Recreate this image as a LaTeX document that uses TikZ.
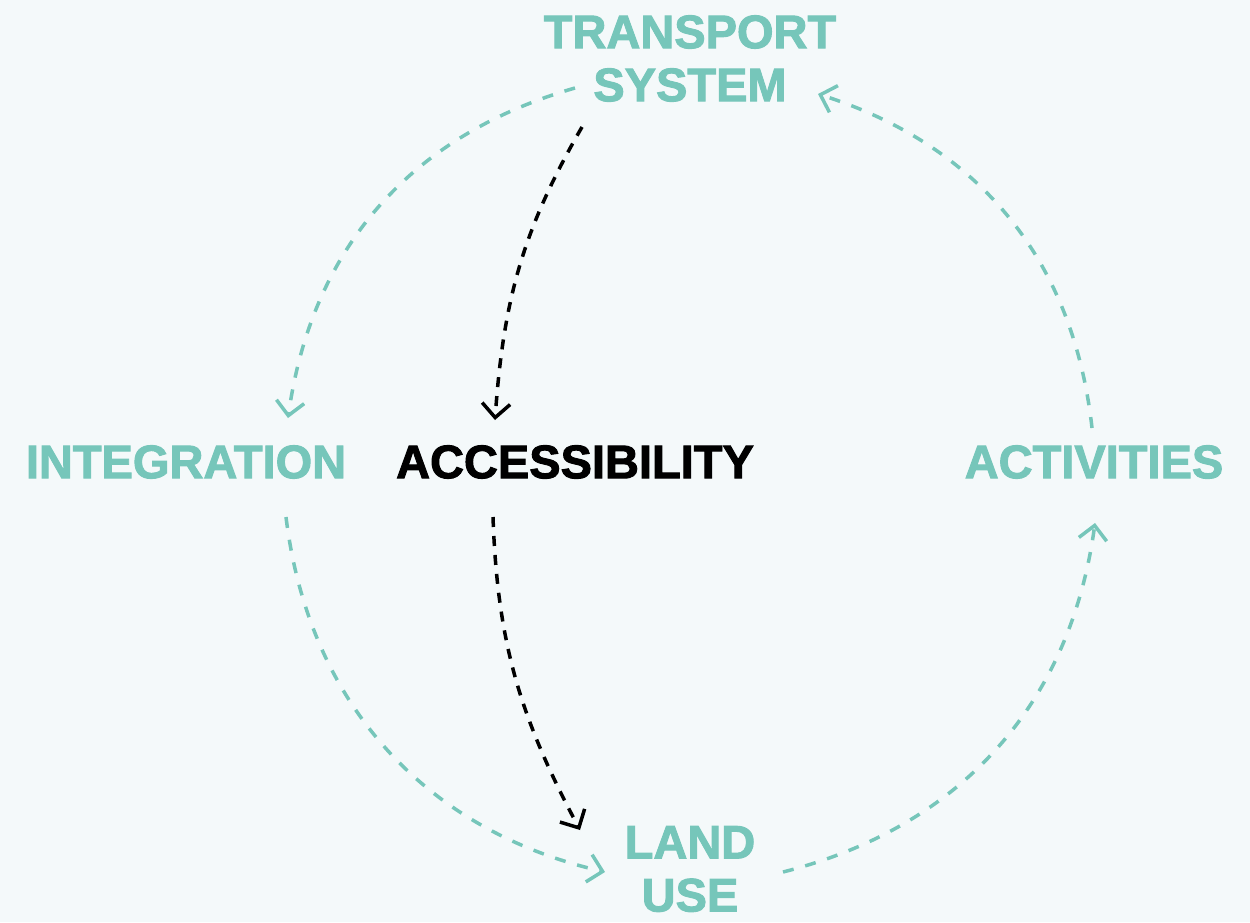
\documentclass[tikz,border=0pt]{standalone}
\usepackage{fontspec}
\setmainfont{Liberation Sans}[BoldFeatures={FakeBold=2}]
\usetikzlibrary{arrows.meta}
\definecolor{bgc}{HTML}{F4F9FA}
\definecolor{teal}{HTML}{76C6BA}
\tikzset{
  lbl/.style={inner sep=0pt, align=center, font=\fontsize{47}{53}\selectfont\bfseries},
  cyc/.style={draw=teal, line width=3.5pt, dash pattern=on 11pt off 12pt,
    -{Straight Barb[length=14pt,width=28pt,line width=3.5pt]}},
  acc/.style={draw=black, line width=3.5pt, dash pattern=on 10pt off 9pt,
    -{Straight Barb[length=14pt,width=28pt,line width=3.5pt]}},
}
\begin{document}
\begin{tikzpicture}[x=1pt,y=-1pt]
\fill[bgc] (0,0) rectangle (1250,922);
\useasboundingbox (0,0) rectangle (1250,922);
\node[lbl, text=teal] (ts) at (690,58.5) {TRANSPORT\\SYSTEM};
\node[lbl, text=black] (acc) at (575,462) {ACCESSIBILITY};
\node[lbl, text=teal] (int) at (186,462) {INTEGRATION};
\node[lbl, text=teal] (act) at (1094,462) {ACTIVITIES};
\node[lbl, text=teal] (lu) at (690,869) {LAND\\USE};
% endpoints
\coordinate (a1s) at (575,88);
\coordinate (a1e) at (288,418);
\coordinate (a2s) at (286,517);
\coordinate (a2e) at (605,872);
\coordinate (a3s) at (783,872);
\coordinate (a3e) at (1095,523);
\coordinate (a4s) at (1092,428);
\coordinate (a4e) at (818,94);
\coordinate (b1s) at (582,127);
\coordinate (b1e) at (495,420);
\coordinate (b2s) at (493,517);
\coordinate (b2e) at (580,830);
\draw[cyc] (a1s) to[bend right=33] (a1e);
\draw[cyc] (a2s) to[bend right=35] (a2e);
\draw[cyc] (a3s) to[bend right=34] (a3e);
\draw[cyc] (a4s) to[bend right=33] (a4e);
\draw[acc] (b1s) to[out=-120,in=86] (b1e);
\draw[acc] (b2s) to[out=-88,in=118] (b2e);
\end{tikzpicture}
\end{document}
